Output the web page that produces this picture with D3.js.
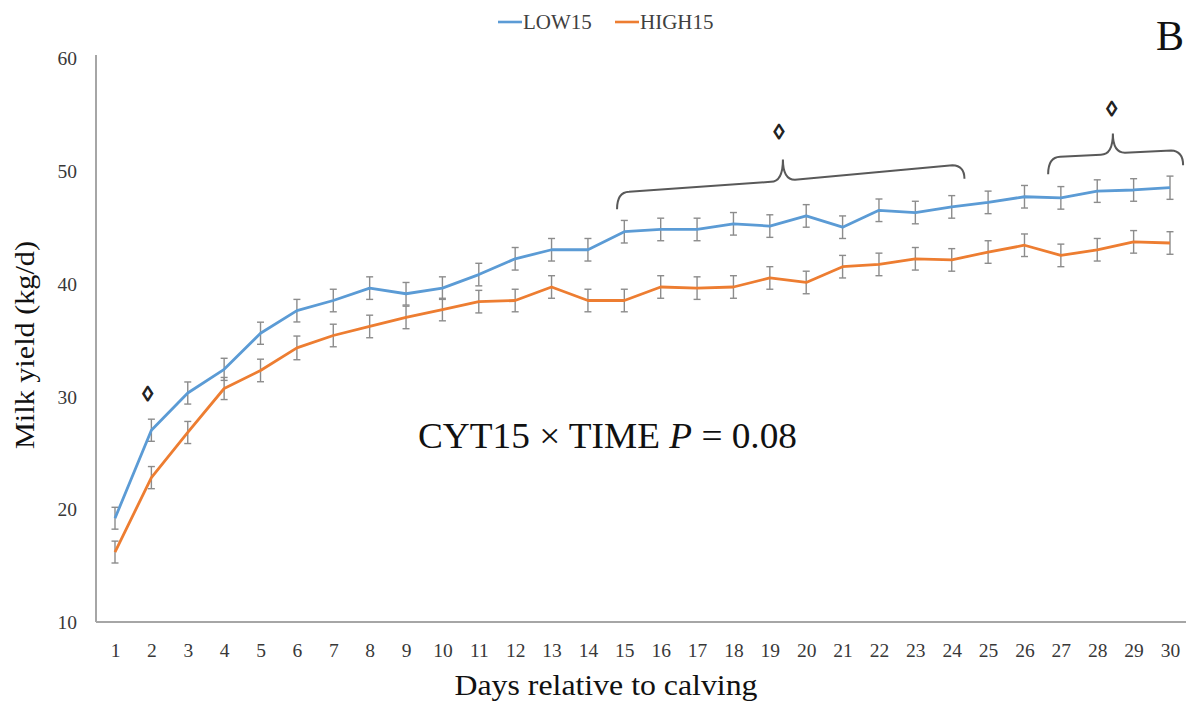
<!DOCTYPE html>
<html>
<head>
<meta charset="utf-8">
<script src="https://cdn.jsdelivr.net/npm/d3@7"></script>
<style>
  html, body { margin: 0; padding: 0; background: #fff; }
  svg { display: block; font-family: "Liberation Serif", "Times New Roman", serif; }
</style>
</head>
<body>
<svg id="chart" width="1196" height="709"></svg>
<script>
// Days relative to calving
const days = d3.range(1, 31);
// Daily milk yield (kg/d) by group
const low15 = [19.2, 27.0, 30.3, 32.4, 35.6, 37.6, 38.5, 39.6, 39.1, 39.6,
               40.8, 42.2, 43.0, 43.0, 44.6, 44.8, 44.8, 45.3, 45.1, 46.0,
               45.0, 46.5, 46.3, 46.8, 47.2, 47.7, 47.6, 48.2, 48.3, 48.5];
const high15 = [16.2, 22.8, 26.8, 30.7, 32.3, 34.3, 35.4, 36.2, 37.0, 37.7,
                38.4, 38.5, 39.7, 38.5, 38.5, 39.7, 39.6, 39.7, 40.5, 40.1,
                41.5, 41.7, 42.2, 42.1, 42.8, 43.4, 42.5, 43.0, 43.7, 43.6];
// Standard errors
const low15SE = [0.97, 0.98, 0.98, 0.98, 0.98, 1.0, 1.0, 1.0, 1.0, 1.0,
                 1.0, 1.0, 1.0, 1.0, 1.0, 1.0, 1.0, 1.0, 1.0, 1.0,
                 1.0, 1.0, 1.0, 1.0, 1.0, 1.0, 1.0, 1.0, 1.0, 1.03];
const high15SE = [0.97, 0.98, 0.98, 0.98, 1.0, 1.05, 1.0, 1.0, 1.0, 1.0,
                  1.0, 1.0, 1.0, 1.0, 1.0, 1.0, 1.0, 1.0, 1.0, 1.0,
                  1.0, 1.0, 1.0, 1.0, 1.0, 1.0, 1.0, 1.0, 1.0, 1.0];
const seriesNames = ["LOW15", "HIGH15"];
const seriesColors = ["#5b9bd5", "#ed7d31"];
const yTicks = [10, 20, 30, 40, 50, 60];

// Significance braces spanning day ranges (heights in kg/d)
const braces = [
  { d0: 14.8, d1: 24.35, dp: 19.36, yl0: 46.6, yh0: 48.1, yl1: 49.3, yh1: 50.5, ymid: 49.2, yp: 51.0 },
  { d0: 26.65, d1: 30.36, dp: 28.43, yl0: 49.7, yh0: 51.2, yl1: 50.5, yh1: 51.8, ymid: 51.6, yp: 53.3 }
];
// Positions of the ◊ symbol (day, kg/d)
const markDays = [1.9, 19.25, 28.4];
const markVals = [30.3, 53.5, 55.5];

const svg = d3.select("#chart");
const plotLeft = 96, plotRight = 1186, plotTop = 55;

const x = d3.scaleLinear().domain([1, 30]).range([115, 1170]);
const y = d3.scaleLinear().domain([10, 60]).range([622, 58]);

// Axes
const xAxis = d3.axisBottom(x).tickValues(days).tickSize(0).tickPadding(21).tickFormat(d3.format("d"));
const yAxis = d3.axisLeft(y).tickValues(yTicks).tickSize(0).tickPadding(19);

const gx = svg.append("g").attr("transform", `translate(0,${y(10)})`).call(xAxis);
const gy = svg.append("g").attr("transform", `translate(${plotLeft},0)`).call(yAxis);
[gx, gy].forEach(g => {
  g.select(".domain").remove();
  g.selectAll("text")
    .attr("fill", "#383838")
    .style("font-family", "Liberation Serif, serif")
    .style("font-size", "19.5px");
});
gy.selectAll("text").attr("dy", "0.34em");

// Axis lines
svg.append("line")
  .attr("x1", plotLeft).attr("x2", plotLeft)
  .attr("y1", plotTop).attr("y2", y(10))
  .attr("stroke", "#a6a6a6").attr("stroke-width", 2);
svg.append("line")
  .attr("x1", plotLeft).attr("x2", plotRight)
  .attr("y1", y(10)).attr("y2", y(10))
  .attr("stroke", "#a6a6a6").attr("stroke-width", 2);

// Error bars
const series = [
  { vals: low15, se: low15SE, color: seriesColors[0] },
  { vals: high15, se: high15SE, color: seriesColors[1] }
];
const capW = 3.5;
series.forEach(s => {
  const g = svg.append("g").attr("stroke", "#8c8c8c").attr("stroke-width", 1.4);
  days.forEach((d, i) => {
    const cx = x(d), top = y(s.vals[i] + s.se[i]), bot = y(s.vals[i] - s.se[i]);
    g.append("line").attr("x1", cx).attr("x2", cx).attr("y1", top).attr("y2", bot);
    g.append("line").attr("x1", cx - capW).attr("x2", cx + capW).attr("y1", top).attr("y2", top);
    g.append("line").attr("x1", cx - capW).attr("x2", cx + capW).attr("y1", bot).attr("y2", bot);
  });
});

// Lines
const line = d3.line().x((d, i) => x(days[i])).y(d => y(d));
series.forEach(s => {
  svg.append("path")
    .datum(s.vals)
    .attr("d", line)
    .attr("fill", "none")
    .attr("stroke", s.color)
    .attr("stroke-width", 2.8)
    .attr("stroke-linejoin", "round");
});

// Braces
braces.forEach(b => {
  const x0 = x(b.d0), x1 = x(b.d1), xp = x(b.dp);
  const p = d3.path();
  const hook = 12;
  p.moveTo(x0, y(b.yl0));
  p.quadraticCurveTo(x0, y(b.yh0), x0 + hook, y(b.yh0) - 0.5);
  const yl = y(b.ymid) + 2;
  p.lineTo(xp - 12, yl);
  p.quadraticCurveTo(xp, yl, xp, y(b.yp));
  p.quadraticCurveTo(xp, yl - 2, xp + 12, yl - 2);
  p.lineTo(x1 - hook, y(b.yh1));
  p.quadraticCurveTo(x1, y(b.yh1) + 0.5, x1, y(b.yl1));
  svg.append("path")
    .attr("d", p.toString())
    .attr("fill", "none")
    .attr("stroke", "#595959")
    .attr("stroke-width", 2);
});

// ◊ markers
markDays.forEach((d, i) => {
  svg.append("text")
    .attr("x", x(d)).attr("y", y(markVals[i]))
    .attr("text-anchor", "middle")
    .attr("dy", "0.36em")
    .attr("font-size", 21)
    .attr("font-weight", "bold")
    .attr("fill", "#222")
    .attr("stroke", "#222")
    .attr("stroke-width", 1.1)
    .text("◊");
});

// Interaction text
const stat = svg.append("text")
  .attr("x", 418).attr("y", 448)
  .attr("font-size", 35)
  .attr("fill", "#111")
  .attr("textLength", 379)
  .attr("lengthAdjust", "spacingAndGlyphs");
stat.append("tspan").text("CYT15 × TIME  ");
stat.append("tspan").attr("font-style", "italic").text("P");
stat.append("tspan").text(" = 0.08");

// Panel letter
svg.append("text")
  .attr("x", 1170).attr("y", 50)
  .attr("text-anchor", "middle")
  .attr("font-size", 42)
  .attr("fill", "#111")
  .text("B");

// Legend
const legendX = [498, 615];
seriesNames.forEach((n, i) => {
  const g = svg.append("g").attr("transform", `translate(${legendX[i]},22)`);
  g.append("line").attr("x1", 0).attr("x2", 24).attr("y1", 0).attr("y2", 0)
    .attr("stroke", seriesColors[i]).attr("stroke-width", 2.6);
  g.append("text").attr("x", 25).attr("y", 7)
    .attr("font-size", 21).attr("fill", "#404040").text(n);
});

// Axis titles
svg.append("text")
  .attr("transform", `translate(34,345) rotate(-90)`)
  .attr("text-anchor", "middle")
  .attr("font-size", 27)
  .attr("fill", "#111")
  .attr("textLength", 208)
  .attr("lengthAdjust", "spacingAndGlyphs")
  .text("Milk  yield  (kg/d)");
svg.append("text")
  .attr("x", 606).attr("y", 695)
  .attr("text-anchor", "middle")
  .attr("font-size", 30)
  .attr("fill", "#111")
  .attr("textLength", 303)
  .attr("lengthAdjust", "spacingAndGlyphs")
  .text("Days relative  to calving");
</script>
</body>
</html>
